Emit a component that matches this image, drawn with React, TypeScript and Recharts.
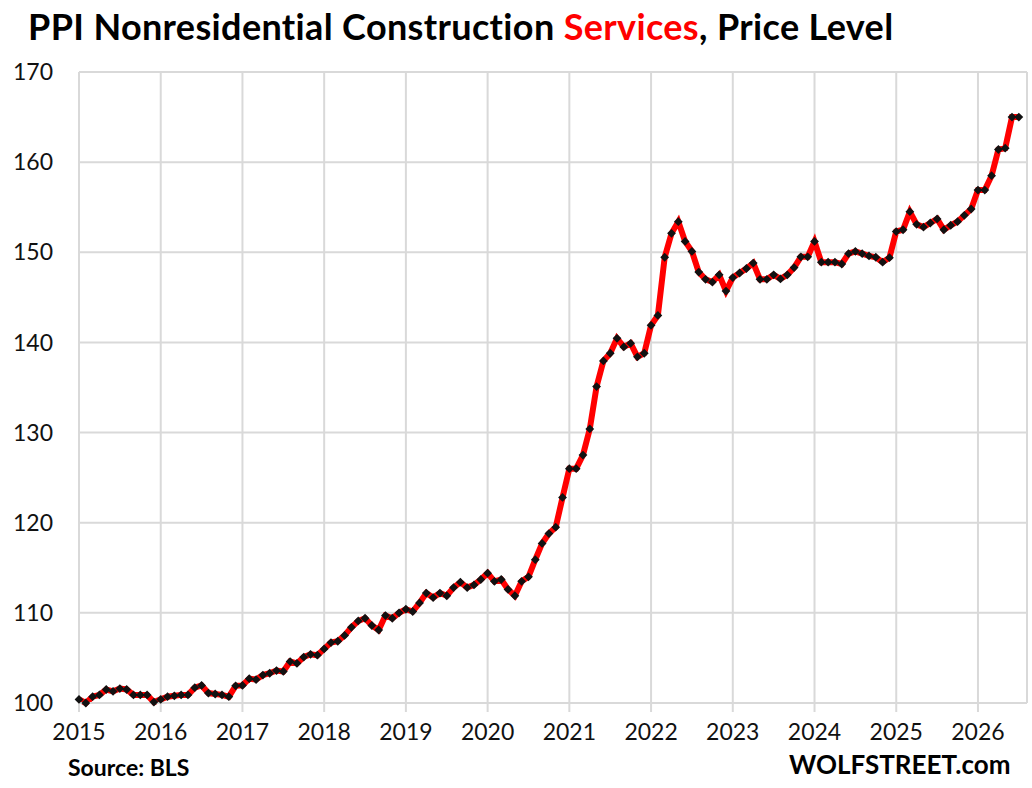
import { LineChart, Line, XAxis, YAxis, CartesianGrid } from 'recharts';

// PPI values, one array per year (Jan..Dec)
const Y2015 = [100.4, 100.0, 100.7, 100.9, 101.5, 101.3, 101.6, 101.5, 100.9, 100.9, 100.9, 100.1];
const Y2016 = [100.4, 100.7, 100.8, 100.9, 100.9, 101.7, 101.95, 101.1, 101.0, 100.9, 100.7, 101.9];
const Y2017 = [101.95, 102.7, 102.6, 103.1, 103.3, 103.6, 103.5, 104.6, 104.4, 105.1, 105.4, 105.3];
const Y2018 = [106.0, 106.7, 106.85, 107.5, 108.4, 109.1, 109.4, 108.6, 108.1, 109.7, 109.4, 110.0];
const Y2019 = [110.4, 110.15, 111.1, 112.2, 111.7, 112.2, 111.9, 112.8, 113.4, 112.8, 113.1, 113.7];
const Y2020 = [114.4, 113.5, 113.7, 112.6, 111.9, 113.5, 114.0, 115.9, 117.7, 118.8, 119.5, 122.8];
const Y2021 = [126.0, 126.0, 127.5, 130.4, 135.1, 137.95, 138.8, 140.45, 139.5, 139.9, 138.4, 138.8];
const Y2022 = [141.9, 143.0, 149.45, 152.1, 153.4, 151.2, 150.1, 147.8, 147.0, 146.7, 147.5, 145.7];
const Y2023 = [147.2, 147.7, 148.2, 148.8, 147.0, 147.0, 147.5, 147.05, 147.5, 148.3, 149.5, 149.5];
const Y2024 = [151.2, 148.9, 148.9, 148.9, 148.7, 149.85, 150.1, 149.85, 149.6, 149.45, 148.9, 149.4];
const Y2025 = [152.3, 152.5, 154.5, 153.1, 152.8, 153.25, 153.7, 152.5, 153.0, 153.4, 154.1, 154.8];
const Y2026 = [156.9, 156.9, 158.5, 161.4, 161.55, 165.0, 165.0];

const YEARS = [2015, 2016, 2017, 2018, 2019, 2020, 2021, 2022, 2023, 2024, 2025, 2026];
const SERIES = [Y2015, Y2016, Y2017, Y2018, Y2019, Y2020, Y2021, Y2022, Y2023, Y2024, Y2025, Y2026];
const Y_TICKS = [100, 110, 120, 130, 140, 150, 160, 170];

const data = SERIES.flatMap((vals, yi) =>
  vals.map((v, m) => ({ t: YEARS[yi] + m / 12, v }))
);

const FONT = 'Lato, "Open Sans", sans-serif';
const GRID = '#d9d9d9';

const Diamond = (props: any) => {
  const { cx, cy } = props;
  if (cx == null || cy == null) return null;
  const r = 4.4;
  return (
    <polygon
      points={`${cx},${cy - r} ${cx + r},${cy} ${cx},${cy + r} ${cx - r},${cy}`}
      fill="#111"
    />
  );
};

export default function App() {
  return (
    <div style={{ position: 'absolute', left: 0, top: 0, width: 1032, height: 788, background: '#fff', fontFamily: FONT }}>
      <div
        style={{
          position: 'absolute', left: 28, top: 4, fontSize: 36, fontWeight: 700,
          color: '#000', whiteSpace: 'nowrap', letterSpacing: 0.35,
        }}
      >
        PPI Nonresidential Construction <span style={{ color: '#ff0000' }}>Services</span>, Price Level
      </div>

      <LineChart
        width={1032}
        height={788}
        data={data}
        margin={{ top: 72, right: 5, left: 0, bottom: 45 }}
      >
        <CartesianGrid stroke={GRID} strokeWidth={2} />
        <XAxis
          dataKey="t"
          type="number"
          domain={[2015, 2026.6]}
          ticks={YEARS}
          height={40}
          axisLine={{ stroke: GRID, strokeWidth: 2 }}
          tickLine={{ stroke: GRID, strokeWidth: 2 }}
          tickSize={9}
          tickMargin={12}
          tick={{ fill: '#111', fontSize: 23, fontFamily: FONT }}
          interval={0}
        />
        <YAxis
          type="number"
          domain={[100, 170]}
          ticks={Y_TICKS}
          width={79}
          axisLine={false}
          tickLine={false}
          tickSize={0}
          tickMargin={26}
          tick={{ fill: '#111', fontSize: 23, fontFamily: FONT }}
          interval={0}
        />
        <Line
          dataKey="v"
          type="linear"
          stroke="#ff0000"
          strokeWidth={6}
          dot={<Diamond />}
          activeDot={false}
          isAnimationActive={false}
        />
      </LineChart>

      <div style={{ position: 'absolute', left: 68, top: 753, fontSize: 23, fontWeight: 700, color: '#000', whiteSpace: 'nowrap' }}>
        Source: BLS
      </div>
      <div style={{ position: 'absolute', left: 789, top: 748, fontSize: 26, fontWeight: 700, color: '#000', whiteSpace: 'nowrap' }}>
        WOLFSTREET.com
      </div>
    </div>
  );
}
